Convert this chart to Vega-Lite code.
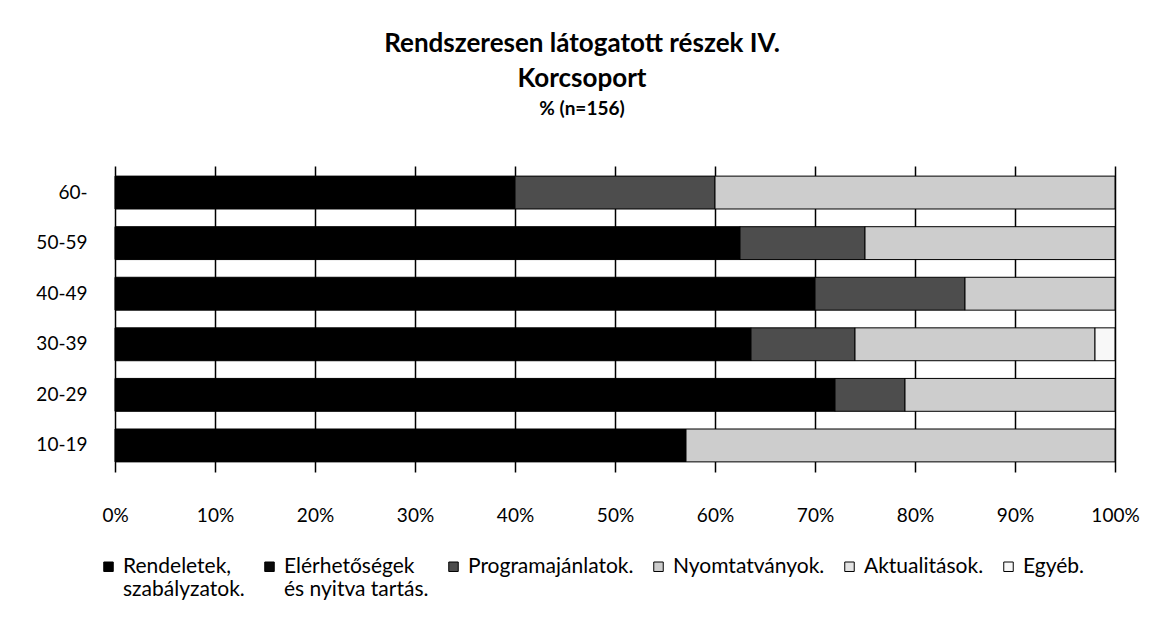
{
  "$schema": "https://vega.github.io/schema/vega-lite/v6.json",
  "autosize": {"type": "none"},
  "width": 1000,
  "height": 306,
  "padding": {"left": 115, "top": 166, "right": 49, "bottom": 153},
  "background": "white",
  "config": {
    "font": "Lato",
    "view": {"stroke": null}
  },
  "title": {
    "text": ["Rendszeresen látogatott részek IV.", "Korcsoport"],
    "subtitle": "% (n=156)",
    "anchor": "middle",
    "frame": "group",
    "dx": -33,
    "offset": 47,
    "fontSize": 26,
    "fontWeight": "bold",
    "lineHeight": 35,
    "color": "#000000",
    "subtitleFontSize": 19,
    "subtitleFontWeight": "bold",
    "subtitleColor": "#000000",
    "subtitlePadding": 8
  },
  "data": {
    "values": [
      {"korcsoport": "60-", "kategoria": "Rendeletek, szabályzatok.", "rend": 1, "ertek": 40},
      {"korcsoport": "60-", "kategoria": "Programajánlatok.", "rend": 3, "ertek": 20},
      {"korcsoport": "60-", "kategoria": "Nyomtatványok.", "rend": 4, "ertek": 40},
      {"korcsoport": "50-59", "kategoria": "Rendeletek, szabályzatok.", "rend": 1, "ertek": 62.5},
      {"korcsoport": "50-59", "kategoria": "Programajánlatok.", "rend": 3, "ertek": 12.5},
      {"korcsoport": "50-59", "kategoria": "Nyomtatványok.", "rend": 4, "ertek": 25},
      {"korcsoport": "40-49", "kategoria": "Rendeletek, szabályzatok.", "rend": 1, "ertek": 70},
      {"korcsoport": "40-49", "kategoria": "Programajánlatok.", "rend": 3, "ertek": 15},
      {"korcsoport": "40-49", "kategoria": "Nyomtatványok.", "rend": 4, "ertek": 15},
      {"korcsoport": "30-39", "kategoria": "Rendeletek, szabályzatok.", "rend": 1, "ertek": 63.6},
      {"korcsoport": "30-39", "kategoria": "Programajánlatok.", "rend": 3, "ertek": 10.4},
      {"korcsoport": "30-39", "kategoria": "Nyomtatványok.", "rend": 4, "ertek": 24},
      {"korcsoport": "30-39", "kategoria": "Egyéb.", "rend": 6, "ertek": 2},
      {"korcsoport": "20-29", "kategoria": "Rendeletek, szabályzatok.", "rend": 1, "ertek": 72},
      {"korcsoport": "20-29", "kategoria": "Programajánlatok.", "rend": 3, "ertek": 7},
      {"korcsoport": "20-29", "kategoria": "Nyomtatványok.", "rend": 4, "ertek": 21},
      {"korcsoport": "10-19", "kategoria": "Rendeletek, szabályzatok.", "rend": 1, "ertek": 57.1},
      {"korcsoport": "10-19", "kategoria": "Nyomtatványok.", "rend": 4, "ertek": 42.9}
    ]
  },
  "mark": {"type": "bar", "stroke": "#000000", "strokeWidth": 1},
  "encoding": {
    "y": {
      "field": "korcsoport",
      "type": "nominal",
      "sort": ["60-", "50-59", "40-49", "30-39", "20-29", "10-19"],
      "scale": {"paddingInner": 0.35, "paddingOuter": 0.2},
      "axis": {
        "title": null,
        "domain": false,
        "ticks": false,
        "labelPadding": 28,
        "labelFontSize": 19,
        "labelColor": "#000000"
      }
    },
    "x": {
      "field": "ertek",
      "type": "quantitative",
      "stack": "zero",
      "scale": {"domain": [0, 100], "nice": false},
      "axis": {
        "title": null,
        "values": [0, 10, 20, 30, 40, 50, 60, 70, 80, 90, 100],
        "labelExpr": "datum.value + '%'",
        "domain": false,
        "ticks": false,
        "grid": true,
        "gridColor": "#000000",
        "gridWidth": 1.5,
        "gridOpacity": 1,
        "labelPadding": 34,
        "labelFontSize": 19,
        "labelColor": "#000000",
        "labelFlush": false
      }
    },
    "color": {
      "field": "kategoria",
      "type": "nominal",
      "sort": ["Rendeletek, szabályzatok.", "Elérhetőségek és nyitva tartás.", "Programajánlatok.", "Nyomtatványok.", "Aktualitások.", "Egyéb."],
      "scale": {
        "domain": ["Rendeletek, szabályzatok.", "Elérhetőségek és nyitva tartás.", "Programajánlatok.", "Nyomtatványok.", "Aktualitások.", "Egyéb."],
        "range": ["#000000", "#0a0a0a", "#4d4d4d", "#cdcdcd", "#e4e4e4", "#f8f8f8"]
      },
      "legend": {
        "title": null,
        "orient": "none",
        "legendX": -17,
        "legendY": 390,
        "direction": "horizontal",
        "columns": 6,
        "symbolType": "square",
        "symbolSize": 90,
        "symbolStrokeColor": "#000000",
        "symbolStrokeWidth": 1,
        "labelFontSize": 21,
        "labelColor": "#000000",
        "labelBaseline": "top",
        "labelOffset": 4,
        "labelLineHeight": 23,
        "columnPadding": 14,
        "labelLimit": 300,
        "labelExpr": "datum.label == 'Rendeletek, szabályzatok.' ? ['Rendeletek,', 'szabályzatok.'] : datum.label == 'Elérhetőségek és nyitva tartás.' ? ['Elérhetőségek', 'és nyitva tartás.'] : [datum.label, ' ']",
        "encode": {
          "labels": {"update": {"dy": {"value": -11}}}
        }
      }
    },
    "order": {"field": "rend", "type": "quantitative", "sort": "ascending"}
  }
}
